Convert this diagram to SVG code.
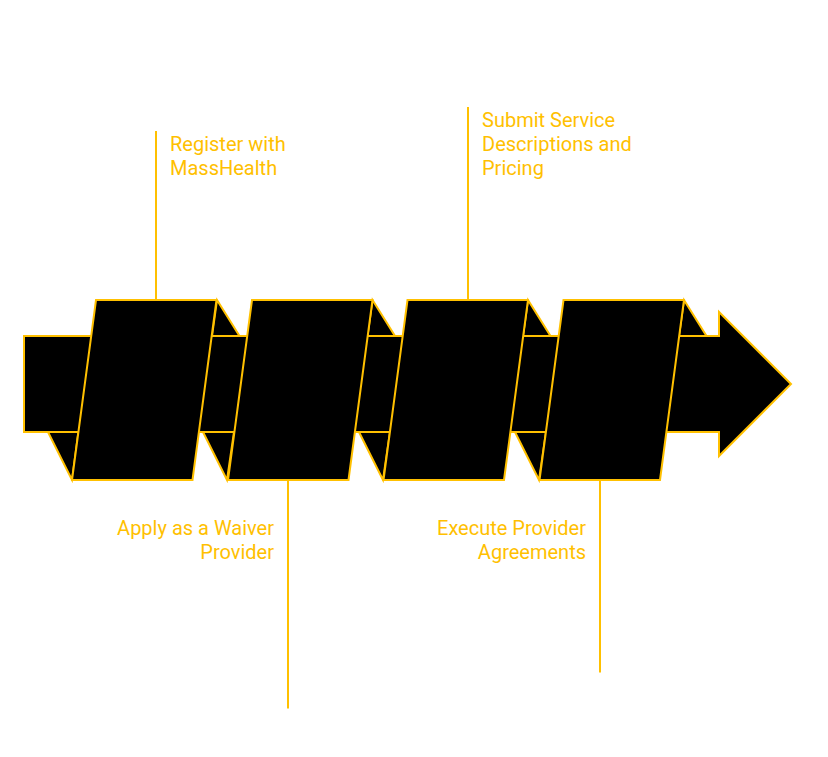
<svg xmlns="http://www.w3.org/2000/svg" width="828" height="757" viewBox="0 0 828 757">
<style>
.s{fill:#000;stroke:#FFC000;stroke-width:2;stroke-linejoin:miter}
.l{stroke:#FFC000;stroke-width:2;fill:none}
.t{font-family:Roboto,"Liberation Sans",sans-serif;font-size:20px;fill:#FFC000}
.e{text-anchor:end}
</style>
<rect width="828" height="757" fill="#fff"/>
<g id="band">
<rect class="s" x="24" y="336" width="80" height="96"/>
<polygon class="s" points="48,432 72,480 78.4,432"/>
<polygon class="s" points="217,300 239.5,336 212,336"/>
<rect class="s" x="195" y="336" width="52" height="96"/>
<polygon class="s" points="203,432 227,480 234,432"/>
<polygon class="s" points="372.5,300 395,336 367.5,336"/>
<rect class="s" x="350" y="336" width="53" height="96"/>
<polygon class="s" points="359,432 383,480 390,432"/>
<polygon class="s" points="528,300 550.5,336 523,336"/>
<rect class="s" x="506" y="336" width="53" height="96"/>
<polygon class="s" points="515,432 539,480 546,432"/>
<polygon class="s" points="684,300 706.5,336 679,336"/>
<polygon class="s" points="660,336 719,336 719,312 791,384 719,456 719,432 660,432"/>
</g>
<g id="step1"><polygon class="s" points="96,300 216.5,300 192.5,480 72,480"/></g>
<g id="step2"><polygon class="s" points="252,300 372.5,300 348.5,480 228,480"/></g>
<g id="step3"><polygon class="s" points="407.5,300 528,300 504,480 383.5,480"/></g>
<g id="step4"><polygon class="s" points="563.5,300 684,300 660,480 539.5,480"/></g>
<g id="connectors">
<line class="l" x1="156" y1="131" x2="156" y2="300"/>
<line class="l" x1="288" y1="480" x2="288" y2="708.5"/>
<line class="l" x1="468" y1="107" x2="468" y2="300"/>
<line class="l" x1="600" y1="480" x2="600" y2="672.5"/>
</g>
<g id="label1"><text class="t" x="170" y="151">Register with</text><text class="t" x="170" y="175">MassHealth</text></g>
<g id="label2"><text class="t e" x="274" y="535">Apply as a Waiver</text><text class="t e" x="274" y="559">Provider</text></g>
<g id="label3"><text class="t" x="482" y="127">Submit Service</text><text class="t" x="482" y="151">Descriptions and</text><text class="t" x="482" y="175">Pricing</text></g>
<g id="label4"><text class="t e" x="586" y="535">Execute Provider</text><text class="t e" x="586" y="559">Agreements</text></g>
</svg>
